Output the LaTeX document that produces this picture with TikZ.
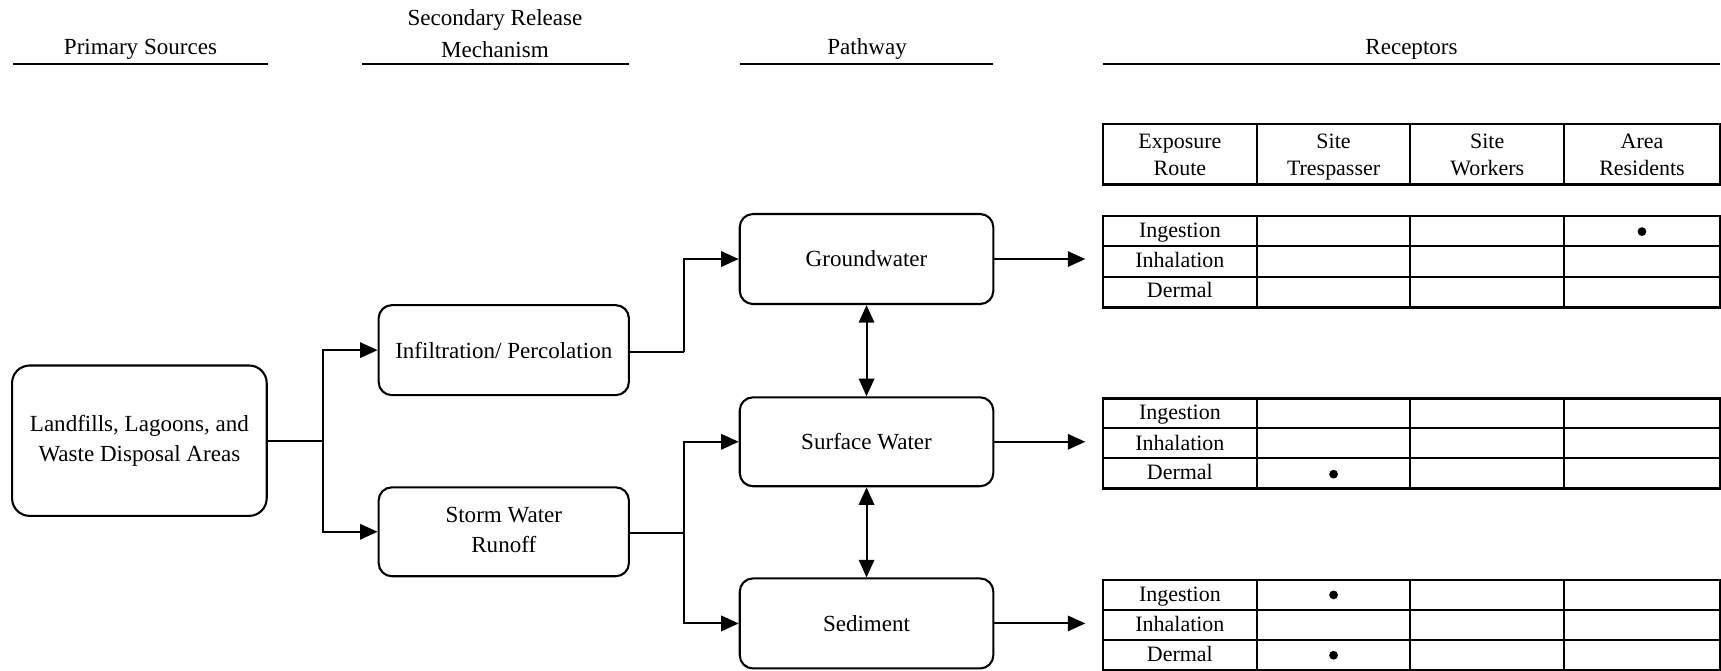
\documentclass[tikz,border=0pt]{standalone}
\usepackage{fontspec}
\setmainfont{Liberation Serif}
\usetikzlibrary{arrows.meta}
\newcommand\myfs{\fontsize{21}{27}\selectfont}
\newcommand\mytfs{\fontsize{20}{25}\selectfont}
\begin{document}
\begin{tikzpicture}[x=1pt,y=-1pt,
  box/.style={draw,line width=1.9pt,rounded corners=12pt,align=center,font=\myfs,inner sep=0pt},
  head/.style={align=center,font=\myfs,inner sep=0pt},
  hline/.style={line width=1.9pt},
  conn/.style={line width=1.9pt},
  arr/.style={line width=1.9pt,-{Triangle[length=16pt,width=14pt]}},
  darr/.style={line width=1.9pt,{Triangle[length=16pt,width=14pt]}-{Triangle[length=16pt,width=14pt]}},
  tframe/.style={draw,line width=2.3pt,minimum width=562pt,inner sep=0pt},
  tline/.style={line width=1.9pt},
  cell/.style={font=\mytfs,inner sep=0pt,align=center},
  dot/.style={circle,fill=black,inner sep=0pt,minimum size=8pt}
]
\useasboundingbox (0,0) rectangle (1568,611);

% headers
\node[head] (h1) at (128,45) {Primary Sources};
\node[head] (h2a) at (451,18) {Secondary Release};
\node[head] (h2b) at (451,45) {Mechanism};
\node[head] (h3) at (790,45) {Pathway};
\node[head] (h4) at (1286,45) {Receptors};
\draw[hline] (12,58) -- (244,58);
\draw[hline] (330,58) -- (573,58);
\draw[hline] (674,58) -- (905,58);
\draw[hline] (1005,58) -- (1567,58);

% boxes
\node[box,rounded corners=16pt,minimum width=232pt,minimum height=137pt] (land) at (127,401.5) {Landfills, Lagoons, and\strut\\Waste Disposal Areas\strut};
\node[box,minimum width=228pt,minimum height=82pt] (infil) at (459,319) {Infiltration/ Percolation};
\node[box,minimum width=228pt,minimum height=81pt] (storm) at (459,484.5) {Storm Water\strut\\Runoff\strut};
\node[box,minimum width=231pt,minimum height=82pt] (gw) at (789.5,236) {Groundwater};
\node[box,minimum width=231pt,minimum height=81pt] (sw) at (789.5,402.5) {Surface Water};
\node[box,minimum width=231pt,minimum height=82pt] (sed) at (789.5,568) {Sediment};

% connectors
\coordinate (j1) at (294,401.5);
\coordinate (j2) at (623,321);
\coordinate (j3) at (623,486);
\draw[conn] (land.east) -- (j1);
\draw[arr] (j1) |- (infil.west);
\draw[arr] (j1) |- (storm.west);
\draw[conn] (infil.east |- j2) -- (j2);
\draw[arr] (j2) |- (gw.west);
\draw[conn] (storm.east |- j3) -- (j3);
\draw[arr] (j3) |- (sw.west);
\draw[arr] (j3) |- (sed.west);
\draw[darr] (gw.south) -- (sw.north);
\draw[darr] (sw.south) -- (sed.north);

% tables
\node[tframe,minimum height=55pt] (th) at (1286,140.5) {};
\node[tframe,minimum height=83pt] (t1) at (1286,238.5) {};
\node[tframe,minimum height=82pt] (t2) at (1286,404) {};
\node[tframe,minimum height=82pt] (t3) at (1286,569.5) {};

\draw[arr,shorten >=15pt] (gw.east) -- (gw.east -| t1.west);
\draw[arr,shorten >=15pt] (sw.east) -- (sw.east -| t2.west);
\draw[arr,shorten >=15pt] (sed.east) -- (sed.east -| t3.west);

% vertical lines
\foreach \top/\bot in {113/168,197/280,363/445,528.5/610.5}{
  \foreach \x in {1145,1285,1425}{
    \draw[tline] (\x,\top) -- (\x,\bot);
  }
}
% row lines
\draw[tline] (1005,224.3) -- (1567,224.3);
\draw[tline] (1005,252) -- (1567,252);
\draw[tline] (1005,390.3) -- (1567,390.3);
\draw[tline] (1005,417.6) -- (1567,417.6);
\draw[tline] (1005,556) -- (1567,556);
\draw[tline] (1005,583) -- (1567,583);

% header text
\node[cell] (c1) at (1075,142.5) {Exposure\strut\\Route\strut};
\node[cell] (c2) at (1215,142.5) {Site\strut\\Trespasser\strut};
\node[cell] (c3) at (1355,142.5) {Site\strut\\Workers\strut};
\node[cell] (c4) at (1496,142.5) {Area\strut\\Residents\strut};

% row labels
\node[cell] (r1a) at (1075,211.5) {Ingestion\strut};
\node[cell] (r1b) at (1075,239) {Inhalation\strut};
\node[cell] (r1c) at (1075,266.5) {Dermal\strut};
\node[cell] (r2a) at (1075,377.5) {Ingestion\strut};
\node[cell] (r2b) at (1075,405) {Inhalation\strut};
\node[cell] (r2c) at (1075,432) {Dermal\strut};
\node[cell] (r3a) at (1075,543) {Ingestion\strut};
\node[cell] (r3b) at (1075,570.5) {Inhalation\strut};
\node[cell] (r3c) at (1075,598) {Dermal\strut};

% dots
\node[dot] (d1) at (1496,211) {};
\node[dot] (d2) at (1215,432) {};
\node[dot] (d3) at (1215,542) {};
\node[dot] (d4) at (1215,597) {};
\end{tikzpicture}
\end{document}
